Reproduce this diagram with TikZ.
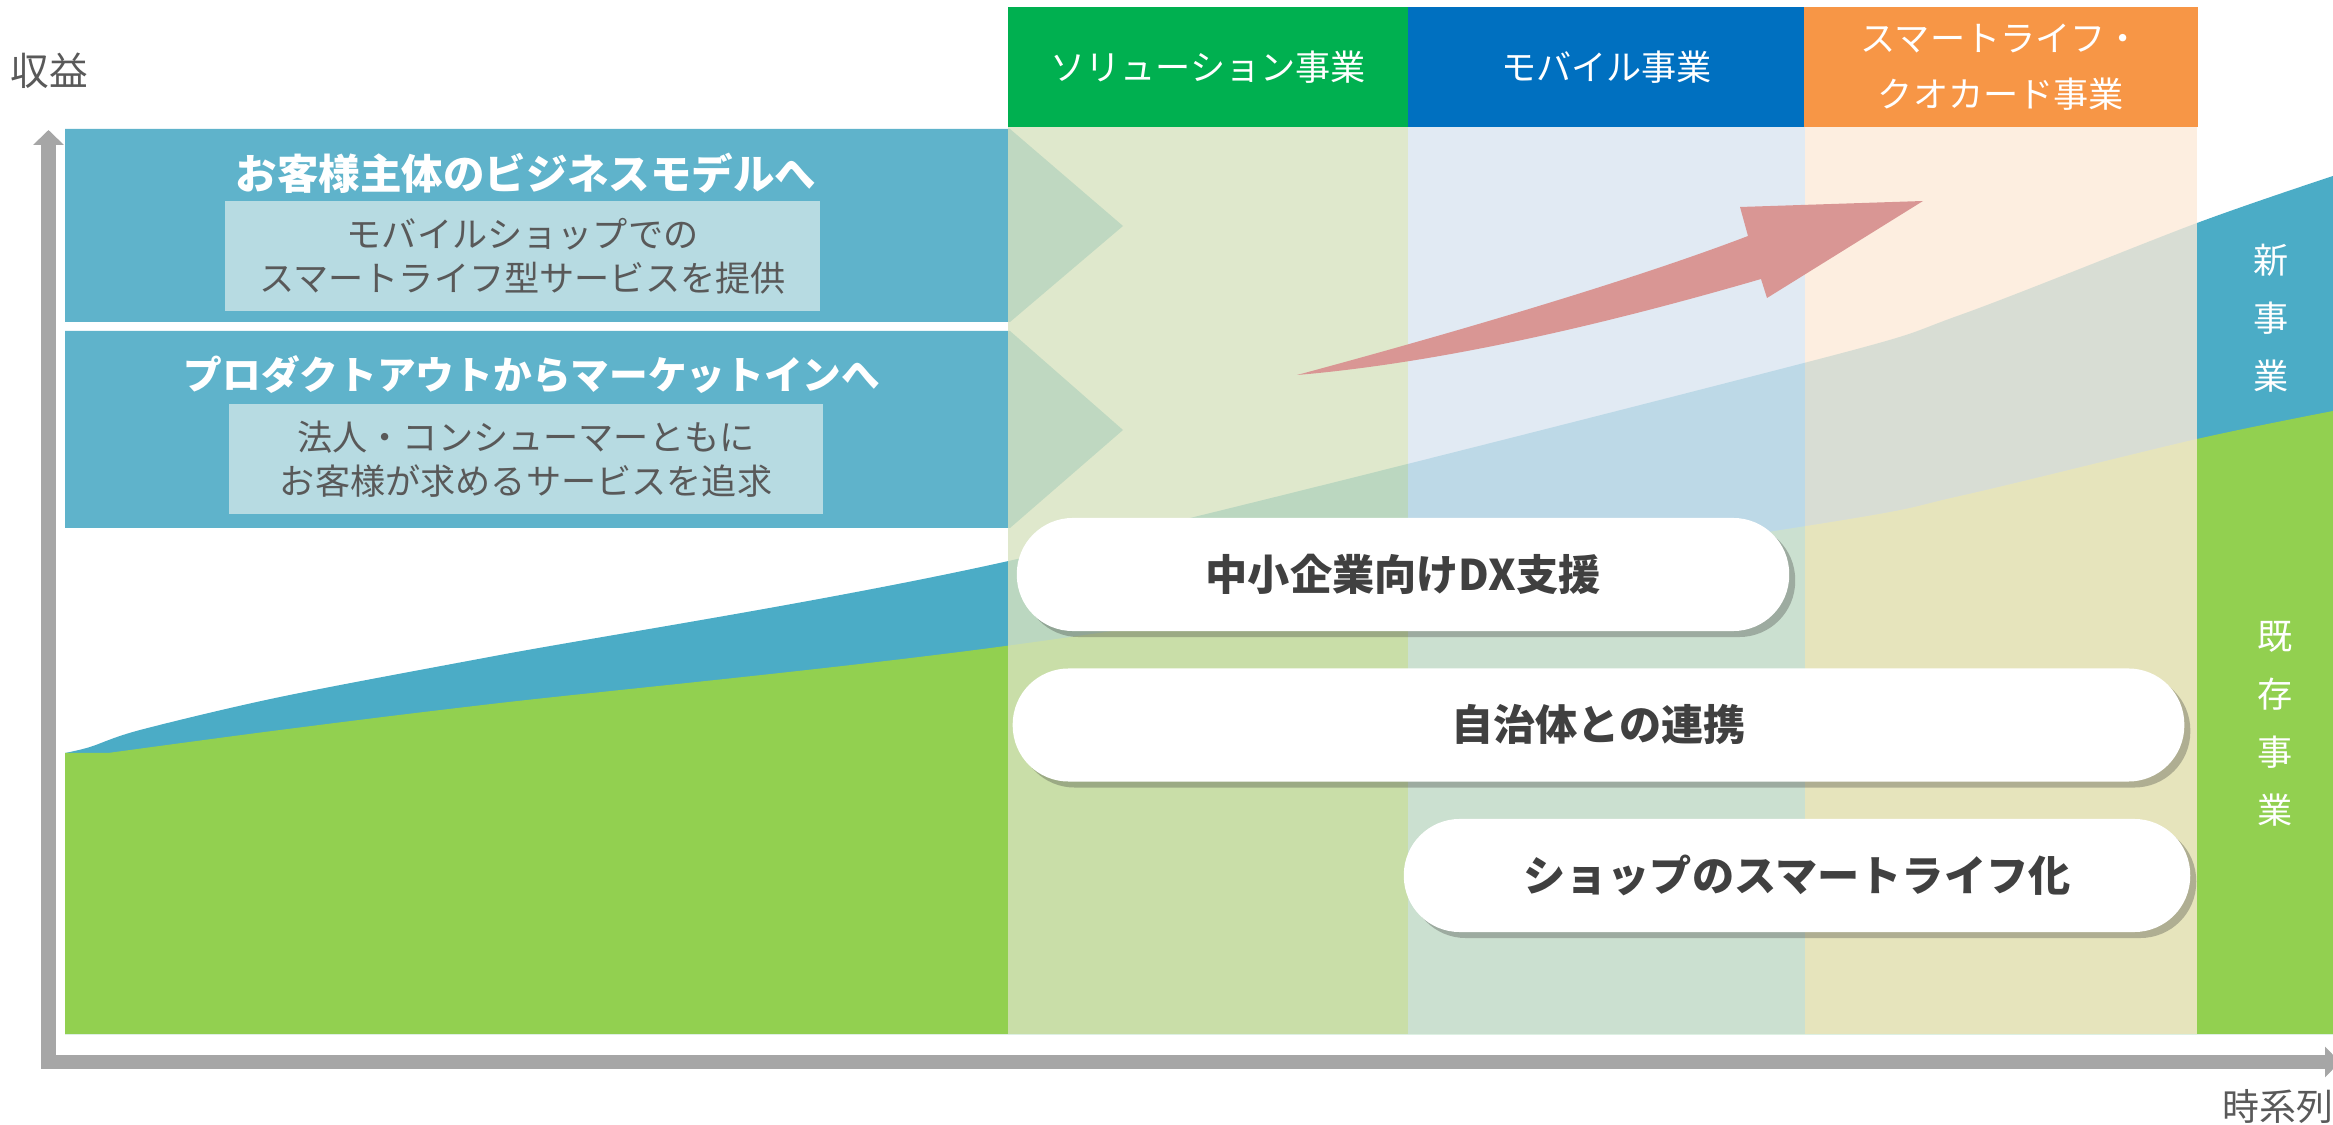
\documentclass[tikz,border=0pt]{standalone}
\usepackage{fontspec}
\setmainfont{Noto Sans CJK JP}
\usetikzlibrary{arrows.meta,shadows}
\definecolor{newbiz}{HTML}{4BACC6}
\definecolor{oldbiz}{HTML}{92D050}
\definecolor{solhead}{HTML}{00B050}
\definecolor{mobhead}{HTML}{0070C0}
\definecolor{lifehead}{HTML}{F79646}
\definecolor{solcol}{HTML}{D7E2BF}
\definecolor{mobcol}{HTML}{DAE5F0}
\definecolor{lifecol}{HTML}{FCEAD8}
\definecolor{policy}{HTML}{5FB3CB}
\definecolor{policyin}{HTML}{B7DBE2}
\definecolor{growth}{HTML}{D99694}
\definecolor{axisgray}{HTML}{A6A6A6}
\definecolor{txtgray}{HTML}{595959}
\definecolor{pilltxt}{HTML}{404040}

\begin{document}
\begin{tikzpicture}[x = .01cm, y = -.01cm,
	headbox/.style = {minimum width = 4cm, minimum height = 1.19cm, inner sep = 0, text = white, align = center, font = \fontsize{10}{16}\selectfont},
	colfill/.style = {fill opacity = .8},
	policytitle/.style = {text = white, font = \bfseries\fontsize{#1}{#1}\selectfont},
	policybox/.style = {fill = policyin, minimum width = 5.94cm, minimum height = 1.1cm, inner sep = 0, text = txtgray, align = center, font = \fontsize{10}{12.5}\selectfont},
	pill/.style = {fill = white, rounded corners = .56cm, minimum height = 1.13cm, text = pilltxt, font = \bfseries\fontsize{12}{14}\selectfont, drop shadow = {shadow xshift = .06cm, shadow yshift = -.06cm, fill = black!80, opacity = .3}},
	sidelabel/.style = {text = white, align = center, font = \fontsize{10}{16.5}\selectfont},
	axislabel/.style = {text = txtgray, font = \fontsize{#1}{#1}\selectfont}
]
	\useasboundingbox (0,0) rectangle (2333,1125);
	\coordinate (ytop) at (48.5,130);
	\coordinate (corner) at (48.5,1062);
	\coordinate (xend) at (2340,1062);
	\draw[axisgray, line width = .14cm, {Triangle[width = .3cm, length = .15cm]}-{Triangle[width = .3cm, length = .15cm]}] (ytop) -- (corner) -- (xend);
	\node[axislabel = 11] (revenue) at (49,71) {収益};
	\node[axislabel = 10.5] (timeline) at (2278,1107) {時系列};
	\fill[newbiz] (65,1034) -- plot[smooth] coordinates {(65,753) (90,747) (140,730) (280,697) (500,655) (1013,560) (1800,364) (1960,315) (2197,223) (2333,176)} -- (2333,1034) -- cycle;
	\fill[oldbiz] (65,1034) -- (65,753) -- plot[smooth] coordinates {(108,753) (280,730) (500,703) (1013,645) (1800,527) (1960,496) (2197,439) (2333,411)} -- (2333,1034) -- cycle;
	\fill[policy] (65,129) -- (1010,129) -- (1123,226) -- (1010,322) -- (65,322) -- cycle;
	\fill[policy] (65,331) -- (1010,331) -- (1123,430) -- (1010,528) -- (65,528) -- cycle;
	\fill[solcol, colfill] (1008,126) rectangle (1408,1034);
	\fill[mobcol, colfill] (1408,126) rectangle (1805,1034);
	\fill[lifecol, colfill] (1805,126) rectangle (2197,1034);
	\node[headbox, fill = solhead] (solution) at (1208,67) {ソリューション事業};
	\node[headbox, fill = mobhead, minimum width = 3.97cm] (mobile) at (1606.5,67) {モバイル事業};
	\node[headbox, fill = lifehead, minimum width = 3.93cm] (smartlife) at (2001,67) {スマートライフ・\\クオカード事業};
	\node[policytitle = 11.8] (customer) at (526,173) {お客様主体のビジネスモデルへ};
	\node[policybox] (shopbox) at (522.5,256) {モバイルショップでの\\スマートライフ型サービスを提供};
	\node[policytitle = 11] (marketin) at (532,375) {プロダクトアウトからマーケットインへ};
	\node[policybox] (needbox) at (526,459) {法人・コンシューマーともに\\お客様が求めるサービスを追求};
	\fill[growth] (1297,375) .. controls (1420,342) and (1620,285) .. (1748,236) -- (1740,207) -- (1923,201) -- (1767,298) -- (1761,279) .. controls (1620,320) and (1450,362) .. (1297,375) -- cycle;
	\node[pill, minimum width = 7.72cm] (dx) at (1403,574.5) {中小企業向けDX支援};
	\node[pill, minimum width = 11.71cm] (localgov) at (1598.5,725) {自治体との連携};
	\node[pill, minimum width = 7.86cm] (shop) at (1797,875.5) {ショップのスマートライフ化};
	\node[sidelabel] (newlabel) at (2271,318) {新\\事\\業};
	\node[sidelabel] (oldlabel) at (2275,724) {既\\存\\事\\業};
\end{tikzpicture}
\end{document}
